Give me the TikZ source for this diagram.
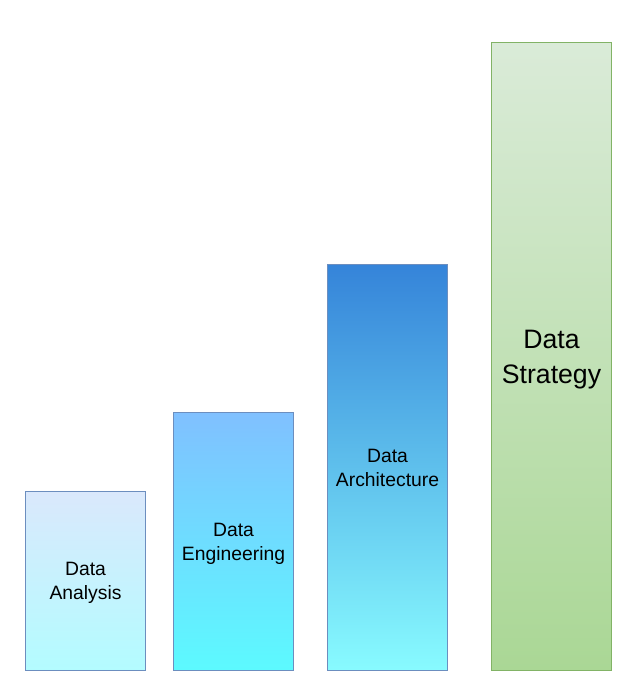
\documentclass[tikz,border=0pt]{standalone}
\usepackage{fontspec}
\setmainfont{Liberation Sans}
\usepackage{xcolor}
\usepackage{tikz}
\usetikzlibrary{positioning}

\definecolor{anaTop}{HTML}{DAE8FC}
\definecolor{anaBot}{HTML}{B3FCFF}
\definecolor{engTop}{HTML}{80C0FF}
\definecolor{engBot}{HTML}{5CFAFF}
\definecolor{archTop}{HTML}{3584D9}
\definecolor{archBot}{HTML}{88FBFF}
\definecolor{stratTop}{HTML}{DAEBD8}
\definecolor{stratBot}{HTML}{AAD795}
\definecolor{blueLine}{HTML}{6C8EBF}
\definecolor{greenLine}{HTML}{82B366}

\begin{document}
\begin{tikzpicture}[
      x=0.75pt, y=-0.75pt,
      bar/.style={rectangle, draw, line width=0.75pt, inner sep=0pt,
        minimum width=90pt, anchor=south west, align=center, text depth=0pt},
      lbl/.style={font=\fontsize{14.5pt}{18pt}\selectfont},
      big_lbl/.style={font=\fontsize{20pt}{26pt}\selectfont},
      blue_bar/.style={bar, draw=blueLine},
      green_bar/.style={bar, draw=greenLine}
  ]

  % 1. Bordo della figura
  \useasboundingbox (0, 0) rectangle (643, 696);

  % 2. Colonne (dal basso, y = 671)
  \node[blue_bar, lbl, top color=anaTop, bottom color=anaBot,
    minimum height=134.25pt] (ana) at (25, 671) {Data\\Analysis};
  \node[blue_bar, lbl, top color=engTop, bottom color=engBot,
    minimum height=193.5pt] (eng) at (173, 671) {Data\\Engineering};
  \node[blue_bar, lbl, top color=archTop, bottom color=archBot,
    minimum height=304.5pt] (arch) at (327, 671) {Data\\Architecture};
  \node[green_bar, big_lbl, top color=stratTop, bottom color=stratBot,
    minimum height=471pt] (strat) at (491, 671) {Data\\Strategy};

\end{tikzpicture}
\end{document}
